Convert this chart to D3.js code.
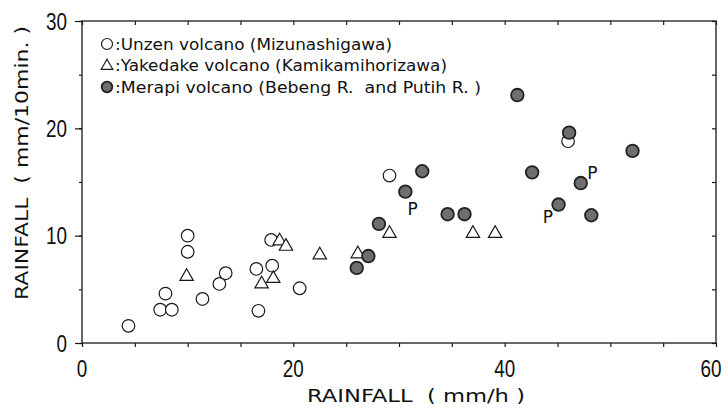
<!DOCTYPE html>
<html><head><meta charset="utf-8">
<script src="https://cdn.jsdelivr.net/npm/d3@7"></script>
<style>body{margin:0;background:#fff}svg{display:block}text{fill:#111;white-space:pre}</style>
</head><body>
<svg id="c" width="728" height="412"></svg>
<script>
// Data
const unzenX = [4.4, 7.4, 8.5, 7.9, 10.0, 10.0, 11.4, 13.0, 13.6, 16.5, 16.7, 18.0, 17.9, 20.6, 29.1, 46.0];
const unzenY = [1.6, 3.1, 3.1, 4.6, 8.5, 10.0, 4.1, 5.5, 6.5, 6.9, 3.0, 7.2, 9.6, 5.1, 15.6, 18.8];
const yakeX = [9.9, 17.0, 18.1, 18.7, 19.3, 22.5, 26.1, 29.1, 37.0, 39.1];
const yakeY = [6.2, 5.5, 6.0, 9.5, 9.0, 8.2, 8.3, 10.2, 10.2, 10.2];
const merapiX = [41.2, 46.1, 52.1, 32.2, 42.6, 30.6, 47.2, 45.1, 34.6, 36.2, 48.2, 28.1, 27.1, 26.0];
const merapiY = [23.1, 19.6, 17.9, 16.0, 15.9, 14.1, 14.9, 12.9, 12.0, 12.0, 11.9, 11.1, 8.1, 7.0];
const pX = [31.3, 48.3, 44.1];
const pY = [12.5, 15.9, 11.8];
const xTicks = [0, 20, 40, 60];
const yTicks = [0, 10, 20, 30];
const legendLabels = [":Unzen volcano (Mizunashigawa)", ":Yakedake volcano (Kamikamihorizawa)", ":Merapi volcano (Bebeng R.  and Putih R. )"];
const xTitle = "RAINFALL  ( mm/h )";
const yTitle = "RAINFALL  ( mm/10min. )";

const svg = d3.select("#c");
const L = 82, R = 716, T = 21, B = 343;
const x = d3.scaleLinear().domain([0, 60]).range([L, R]);
const y = d3.scaleLinear().domain([0, 30]).range([B, T]);
const ink = "#1a1a1a";
const minor = d3.range(0, 61, 5);
const minorY = d3.range(0, 31, 5);

svg.append("rect").attr("x", L).attr("y", T).attr("width", R - L).attr("height", B - T)
  .attr("fill", "none").attr("stroke", ink).attr("stroke-width", 1.3);

function styleAxis(g) {
  g.select(".domain").remove();
  g.selectAll("line").attr("stroke", ink).attr("stroke-width", 1.2);
}
svg.append("g").attr("transform", `translate(0,${B})`)
  .call(d3.axisBottom(x).tickValues(minor).tickSize(4).tickFormat(""))
  .call(styleAxis);
svg.append("g").attr("transform", `translate(0,${T})`)
  .call(d3.axisBottom(x).tickValues(minor).tickSize(4).tickFormat(""))
  .call(styleAxis);
svg.append("g").attr("transform", `translate(${L},0)`)
  .call(d3.axisLeft(y).tickValues(yTicks).tickSize(7).tickFormat(""))
  .call(styleAxis);
svg.append("g").attr("transform", `translate(${L},0)`)
  .call(d3.axisLeft(y).tickValues(minorY).tickSize(3).tickFormat(""))
  .call(styleAxis);
svg.append("g").attr("transform", `translate(${R},0)`)
  .call(d3.axisLeft(y).tickValues(minorY).tickSize(4).tickFormat(""))
  .call(styleAxis);

const tickFont = "'Liberation Sans', Arial, sans-serif";
svg.append("g").selectAll("text").data(yTicks).join("text")
  .attr("x", 67).attr("y", d => y(d) + 8.5)
  .attr("text-anchor", "end").attr("font-family", tickFont).attr("font-size", 24)
  .attr("textLength", d => String(d).length * 10.5).attr("lengthAdjust", "spacingAndGlyphs")
  .text(d => d);
svg.append("g").selectAll("text").data(xTicks).join("text")
  .attr("x", d => Math.min(x(d), 711)).attr("y", 377)
  .attr("text-anchor", "middle").attr("font-family", tickFont).attr("font-size", 24)
  .attr("textLength", d => String(d).length * 10.5).attr("lengthAdjust", "spacingAndGlyphs")
  .text(d => d);

const titleFont = "'DejaVu Sans', sans-serif";
svg.append("text").attr("x", 416).attr("y", 402).attr("text-anchor", "middle")
  .attr("font-family", titleFont).attr("font-size", 18)
  .attr("textLength", 218).attr("lengthAdjust", "spacingAndGlyphs").text(xTitle);
svg.append("text").attr("transform", "translate(28,163) rotate(-90)").attr("text-anchor", "middle")
  .attr("font-family", titleFont).attr("font-size", 18)
  .attr("textLength", 274).attr("lengthAdjust", "spacingAndGlyphs").text(yTitle);

const triPath = d3.symbol().type(d3.symbolTriangle).size(78);
svg.append("g").selectAll("circle").data(d3.range(unzenX.length)).join("circle")
  .attr("cx", i => x(unzenX[i])).attr("cy", i => y(unzenY[i])).attr("r", 6.3)
  .attr("fill", "#fff").attr("stroke", ink).attr("stroke-width", 1.2);
svg.append("g").selectAll("path").data(d3.range(yakeX.length)).join("path")
  .attr("transform", i => `translate(${x(yakeX[i])},${y(yakeY[i])})`).attr("d", triPath)
  .attr("fill", "#fff").attr("stroke", ink).attr("stroke-width", 1.2);
svg.append("g").selectAll("circle").data(d3.range(merapiX.length)).join("circle")
  .attr("cx", i => x(merapiX[i])).attr("cy", i => y(merapiY[i])).attr("r", 6.3)
  .attr("fill", "#6e6e6e").attr("stroke", "#222").attr("stroke-width", 1.8);
svg.append("g").selectAll("text").data(d3.range(pX.length)).join("text")
  .attr("x", i => x(pX[i])).attr("y", i => y(pY[i]) + 6.5).attr("text-anchor", "middle")
  .attr("font-family", titleFont).attr("font-size", 17).text("P");

const legY = [44, 65.5, 87];
const legEnd = [392, 447, 481];
const lg = svg.append("g");
lg.append("circle").attr("cx", 107).attr("cy", legY[0]).attr("r", 5.5)
  .attr("fill", "#fff").attr("stroke", ink).attr("stroke-width", 1.2);
lg.append("path").attr("transform", `translate(107,${legY[1] + 0.5})`)
  .attr("d", d3.symbol().type(d3.symbolTriangle).size(60))
  .attr("fill", "#fff").attr("stroke", ink).attr("stroke-width", 1.1);
lg.append("circle").attr("cx", 107).attr("cy", legY[2]).attr("r", 5.3)
  .attr("fill", "#6e6e6e").attr("stroke", "#222").attr("stroke-width", 1.8);
lg.selectAll("text").data(legendLabels).join("text")
  .attr("x", 115).attr("y", (d, i) => legY[i] + 5.5)
  .attr("font-family", titleFont).attr("font-size", 15)
  .attr("textLength", (d, i) => legEnd[i] - 115).attr("lengthAdjust", "spacingAndGlyphs")
  .text(d => d);
</script>
</body></html>
